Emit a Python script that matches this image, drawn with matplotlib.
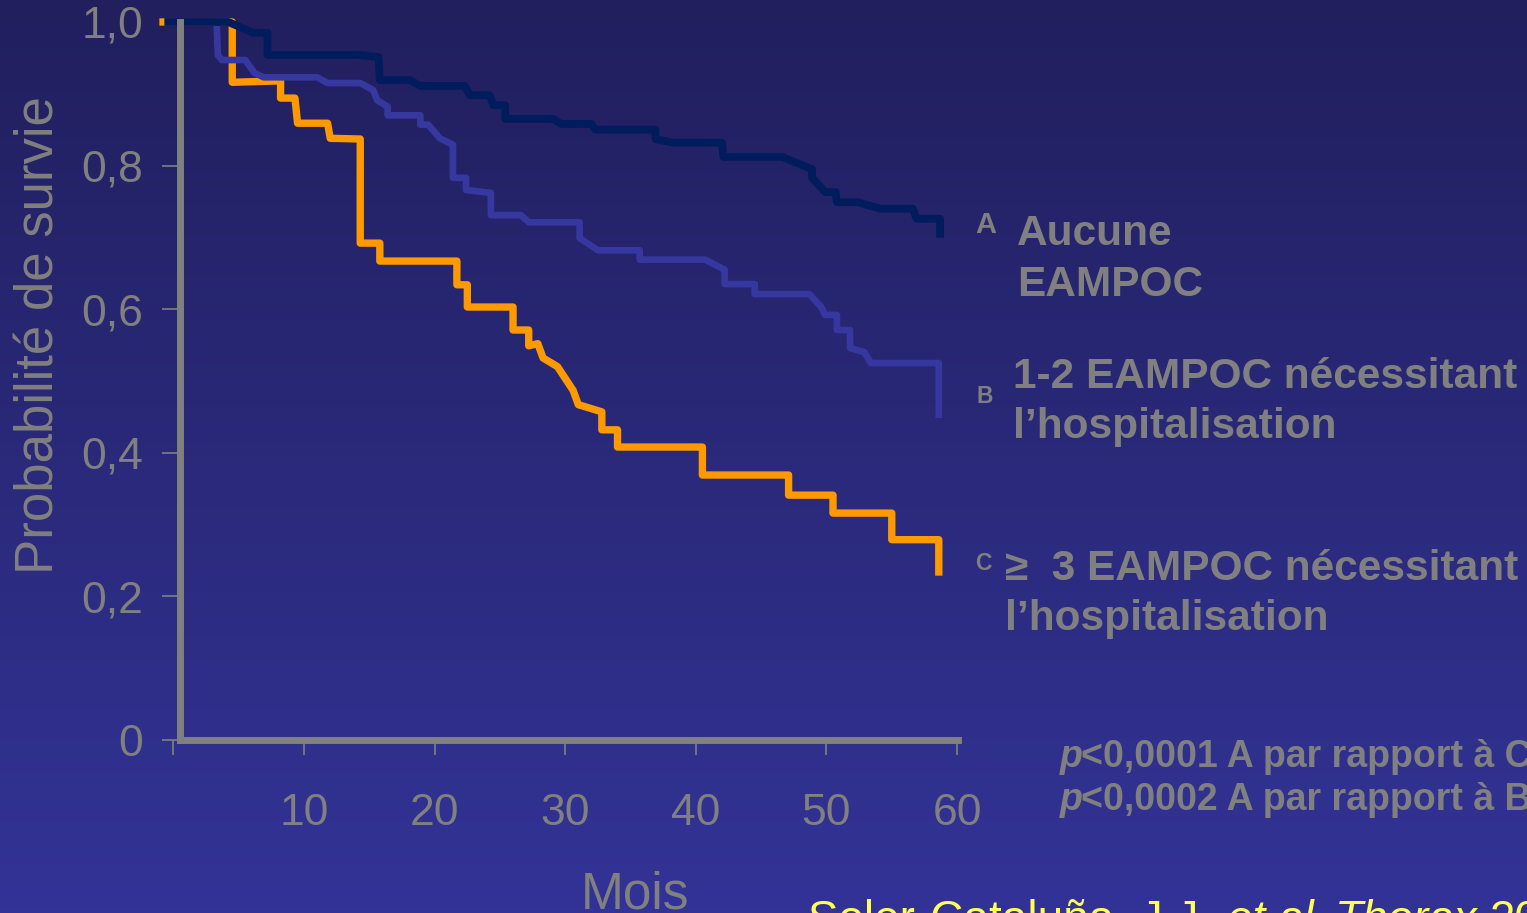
import matplotlib
matplotlib.use('Agg')
import matplotlib.pyplot as plt
import numpy as np

plt.rcParams['font.family'] = ['Liberation Sans', 'DejaVu Sans']

# Kaplan-Meier curves (mois, probabilité de survie)
mois_a = [-0.4, 4.2, 6.1, 7.2, 7.2, 14.3, 15.7, 15.8, 18.1, 18.9, 22.3, 22.7, 24.2, 24.5,
          25.4, 25.4, 29.1, 29.7, 32.0, 32.3, 36.9, 36.9, 38.2, 42.0, 42.1, 46.6, 48.9,
          48.9, 49.9, 50.7, 50.8, 52.4, 54.1, 56.6, 56.9, 58.7, 58.7]
surv_a = [1.0, 1.0, 0.985, 0.985, 0.954, 0.954, 0.951, 0.919, 0.919, 0.911, 0.911, 0.898,
          0.898, 0.884, 0.884, 0.865, 0.865, 0.858, 0.858, 0.850, 0.850, 0.837, 0.832,
          0.832, 0.812, 0.812, 0.795, 0.783, 0.763, 0.763, 0.749, 0.749, 0.740, 0.740,
          0.726, 0.726, 0.705]

mois_b = [0.1, 3.3, 3.4, 3.7, 5.5, 6.2, 6.9, 11.0, 11.8, 14.3, 15.3, 15.6, 16.4, 16.4,
          18.9, 18.9, 19.5, 20.4, 21.4, 21.4, 22.4, 22.4, 24.3, 24.3, 26.6, 27.2, 31.1,
          31.1, 32.5, 35.7, 35.7, 40.7, 42.2, 42.2, 44.5, 44.5, 48.7, 49.6, 49.9, 50.8,
          50.8, 51.8, 51.8, 52.9, 53.4, 58.6, 58.6]
surv_b = [1.0, 1.0, 0.954, 0.947, 0.947, 0.929, 0.923, 0.923, 0.915, 0.915, 0.905, 0.891,
          0.882, 0.870, 0.870, 0.857, 0.857, 0.838, 0.829, 0.783, 0.783, 0.766, 0.762,
          0.731, 0.731, 0.721, 0.721, 0.699, 0.682, 0.682, 0.669, 0.669, 0.655, 0.635,
          0.635, 0.621, 0.621, 0.603, 0.592, 0.592, 0.571, 0.571, 0.546, 0.540, 0.525,
          0.525, 0.453]

mois_c = [-0.8, 4.5, 4.5, 8.2, 8.2, 9.3, 9.5, 11.8, 12.0, 14.3, 14.3, 15.8, 15.8, 21.7,
          21.7, 22.5, 22.5, 26.0, 26.0, 27.2, 27.2, 27.9, 28.3, 29.4, 30.6, 31.0, 32.8,
          32.8, 34.0, 34.0, 40.5, 40.5, 47.1, 47.1, 50.5, 50.5, 55.0, 55.0, 58.6, 58.6]
surv_c = [1.0, 1.0, 0.916, 0.918, 0.894, 0.894, 0.859, 0.859, 0.838, 0.837, 0.692, 0.692,
          0.667, 0.667, 0.634, 0.634, 0.603, 0.603, 0.571, 0.571, 0.549, 0.552, 0.532,
          0.520, 0.487, 0.467, 0.457, 0.432, 0.432, 0.408, 0.408, 0.369, 0.369, 0.341,
          0.341, 0.316, 0.316, 0.279, 0.279, 0.234]

x_ticks = [0, 10, 20, 30, 40, 50, 60]
x_labels = ['', '10', '20', '30', '40', '50', '60']
y_ticks = [0, 0.2, 0.4, 0.6, 0.8, 1.0]
y_labels = ['0', '0,2', '0,4', '0,6', '0,8', '1,0']

GRIS = '#808080'
W, H = 1527, 913
fig = plt.figure(figsize=(W / 100, H / 100), dpi=100)

# fond dégradé bleu
bg = fig.add_axes([0, 0, 1, 1], zorder=0)
haut = np.array([0x21, 0x1f, 0x5d]) / 255
bas = np.array([0x33, 0x33, 0x97]) / 255
k = np.linspace(0, 1, 256)[:, None, None]
bg.imshow(haut + (bas - haut) * k, aspect='auto', extent=[0, 1, 0, 1])
bg.axis('off')

ax = fig.add_axes([153.9 / W, 173 / H, 809.7 / W, 725.2 / H], zorder=1)
ax.patch.set_alpha(0)
ax.set_xlim(-1.5, 60.5)
ax.set_ylim(0, 1.01)

ax.plot(mois_c, surv_c, color='#ff9900', lw=5.3, clip_on=False,
        solid_joinstyle='round', zorder=2)
ax.plot(mois_b, surv_b, color='#3737a0', lw=4.8, clip_on=False,
        solid_joinstyle='round', zorder=3)
ax.plot(mois_a, surv_a, color='#001c5c', lw=5.6, clip_on=False,
        solid_joinstyle='round', zorder=4)

for s in ['top', 'right']:
    ax.spines[s].set_visible(False)
for s in ['left', 'bottom']:
    ax.spines[s].set_color(GRIS)
    ax.spines[s].set_linewidth(5)
    ax.spines[s].set_zorder(5)
ax.spines['left'].set_position(('data', 0.5))
ax.spines['left'].set_bounds(0, 1.0)
ax.spines['bottom'].set_bounds(0.5, 60.1)

ax.set_xticks(x_ticks)
ax.set_xticklabels(x_labels)
ax.set_yticks(y_ticks)
ax.set_yticklabels(y_labels)
ax.tick_params(axis='x', direction='out', length=10.8, width=1.2, color=GRIS,
               pad=27, labelsize=32, labelcolor=GRIS)
ax.tick_params(axis='y', direction='out', length=13, width=1.2, color=GRIS,
               pad=13.5, labelsize=32, labelcolor=GRIS)

def fx(px):
    return px / W

def fy(py):
    return (H - py) / H

fig.text(fx(40), fy(335), 'Probabilité de survie', rotation=90, fontsize=38,
         color=GRIS, ha='center', va='center')
fig.text(fx(635), fy(908), 'Mois', fontsize=37, color=GRIS, ha='center',
         va='baseline')

# légende des groupes
gras = dict(color=GRIS, fontweight='bold', va='baseline', ha='left')
fig.text(fx(975), fy(233), 'A', fontsize=21, **gras)
fig.text(fx(1017), fy(245), 'Aucune', fontsize=30.5, **gras)
fig.text(fx(1017), fy(296), 'EAMPOC', fontsize=30.5, **gras)
fig.text(fx(976), fy(403), 'B', fontsize=16.5, **gras)
fig.text(fx(1013), fy(388), '1-2 EAMPOC nécessitant', fontsize=30.5, **gras)
fig.text(fx(1013), fy(438), 'l\u2019hospitalisation', fontsize=30.5, **gras)
fig.text(fx(975), fy(570), 'C', fontsize=16.5, **gras)
fig.text(fx(1005), fy(580), '\u2265  3 EAMPOC nécessitant', fontsize=30.5, **gras)
fig.text(fx(1005), fy(630), 'l\u2019hospitalisation', fontsize=30.5, **gras)

# valeurs de p
for py, txt in [(767, '<0,0001 A par rapport à C'), (810, '<0,0002 A par rapport à B')]:
    fig.text(fx(1060), fy(py), 'p', fontsize=27, style='italic', **gras)
    fig.text(fx(1081), fy(py), txt, fontsize=27, **gras)

# référence
jaune = dict(color='#ffff55', fontsize=33, va='baseline', ha='left')
fig.text(fx(808), fy(933), 'Soler-Cataluña, J.J.', **jaune)
fig.text(fx(1227), fy(933), 'et al.', style='italic', **jaune)
fig.text(fx(1335), fy(933), 'Thorax', style='italic', **jaune)
fig.text(fx(1490), fy(933), '2005', **jaune)

fig.savefig('out.png', dpi=100)
